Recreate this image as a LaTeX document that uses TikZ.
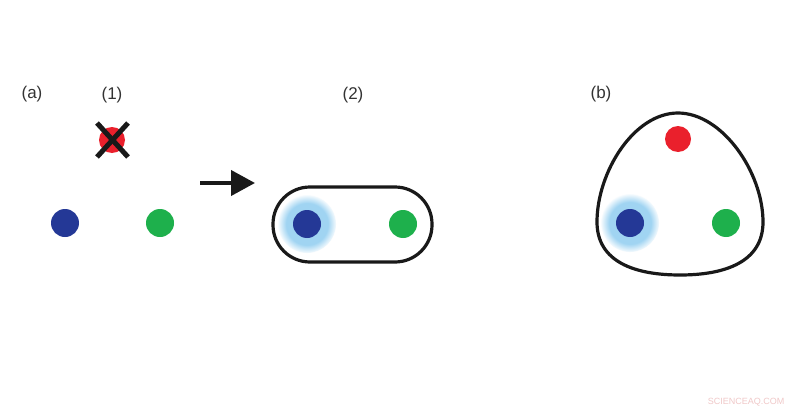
\documentclass[tikz,border=0pt]{standalone}
\usepackage{fontspec}
\setmainfont{Liberation Sans}
\usetikzlibrary{arrows.meta}
\definecolor{dotred}{RGB}{234,32,44}
\definecolor{dotblue}{RGB}{36,56,150}
\definecolor{dotgreen}{RGB}{30,176,76}
\definecolor{glowblue}{RGB}{160,212,242}
\definecolor{wmark}{RGB}{240,200,200}
\pgfdeclareradialshading{glowshade}{\pgfpoint{0bp}{0bp}}{color(0bp)=(glowblue); color(18bp)=(glowblue); color(25bp)=(glowblue!10); color(26bp)=(white); color(50bp)=(white)}
\begin{document}
\begin{tikzpicture}[x=1pt,y=-1pt,
  dot/.style={circle,minimum size=28pt,inner sep=0pt},
  reddot/.style={dot,fill=dotred,minimum size=26pt},
  bluedot/.style={dot,fill=dotblue},
  greendot/.style={dot,fill=dotgreen},
  lbl/.style={inner sep=0pt,font=\fontsize{17}{20}\selectfont,text=black!80},
  boundary/.style={line width=3.2pt,draw=black!90},
  crossline/.style={line width=5pt,draw=black!90},
  glow/.style={shading=glowshade}]
\useasboundingbox (0,0) rectangle (800,412);
\fill[white] (0,0) rectangle (800,412);
% labels
\node[lbl] (la) at (32,94) {(a)};
\node[lbl] (l1) at (112,95) {(1)};
\node[lbl] (l2) at (353,95) {(2)};
\node[lbl] (lb) at (601,94) {(b)};
% panel (a)(1)
\node[reddot] (r1) at (112,140) {};
\draw[crossline] (r1.center) ++(-15,-17) coordinate (c1) -- ++(31,34) coordinate (c2);
\draw[crossline] (r1.center) ++(16,-17) coordinate (c3) -- ++(-31,34) coordinate (c4);
\node[bluedot] (b1) at (65,223) {};
\node[greendot] (g1) at (160,223) {};
% arrow
\coordinate (as) at (200,183);
\coordinate (ae) at (255,183);
\draw[line width=4pt,draw=black!90,-{Triangle[length=24pt,width=25pt]}] (as) -- (ae);
% panel (2)
\node[boundary,rectangle,rounded corners=37pt,minimum width=159pt,minimum height=75pt] (cap) at (352.5,224.5) {};
\shade[glow] (307,224) circle[radius=29];
\node[bluedot] (b2) at (307,224) {};
\node[greendot] (g2) at (403,224) {};
% panel (b)
\coordinate (pt) at (678,113);
\coordinate (pr) at (763,222);
\coordinate (pbm) at (680,275);
\coordinate (pl) at (597,222);
\draw[boundary] (pt) .. controls (722,113) and (763,172) .. (pr)
  .. controls (763,262) and (725,275) .. (pbm)
  .. controls (635,275) and (597,262) .. (pl)
  .. controls (597,172) and (634,113) .. (pt) -- cycle;
\node[reddot] (r3) at (678,139) {};
\shade[glow] (630,223) circle[radius=29];
\node[bluedot] (b3) at (630,223) {};
\node[greendot] (g3) at (726,223) {};
% watermark
\node[inner sep=0pt,font=\fontsize{9}{10}\selectfont,text=wmark] (wm) at (746,402) {SCIENCEAQ.COM};
\end{tikzpicture}
\end{document}
